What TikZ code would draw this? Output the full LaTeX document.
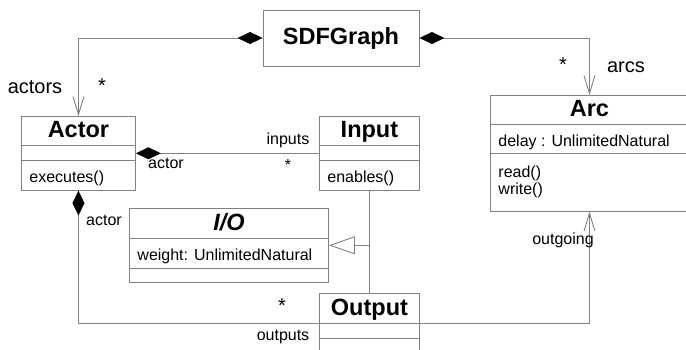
\documentclass[tikz,border=0pt]{standalone}
\usepackage{fontspec}
\setmainfont{Liberation Sans}
\usetikzlibrary{arrows.meta,shapes.multipart}

\definecolor{linegray}{RGB}{128,128,128}
\newcommand\cell[2]{\rule[-#2pt]{0pt}{\dimexpr #1pt+#2pt\relax}}
\newcommand\bodyfont{\fontsize{16}{16}\selectfont}
\newcommand\headfont{\fontsize{23.5}{26}\selectfont\bfseries}
\newcommand\rolefont{\fontsize{20}{22}\selectfont}

\begin{document}
\begin{tikzpicture}[x=1pt, y=-1pt,
  umlclass/.style={draw=linegray, line width=0.9pt, rectangle split,
                   rectangle split parts=3,
                   rectangle split part align={center,left,left},
                   inner xsep=8pt, inner ysep=0pt, anchor=north west,
                   font=\bodyfont},
  plainbox/.style={draw=linegray, line width=0.9pt, inner sep=0pt},
  role/.style={anchor=base, inner sep=0pt, font=\bodyfont},
  bigrole/.style={anchor=base, inner sep=0pt, font=\rolefont},
  link/.style={draw=linegray, line width=0.9pt},
  owns/.tip={Diamond[length=25pt, width=12pt, color=black, fill=black]},
  opens/.tip={Straight Barb[length=18pt, width=11pt]},
  inherits/.tip={Triangle[open, length=26pt, width=18pt, fill=white]}
]
\useasboundingbox (0,0) rectangle (686,349);

% ---- Classes ----
\node[plainbox, minimum width=156pt, minimum height=56pt] (sdf) at (341,38)
  {\headfont SDFGraph};

\node[umlclass, minimum width=114pt] (actor) at (21,116) {
  {\headfont\cell{21}{7}Actor}
  \nodepart{two}\cell{14}{0}
  \nodepart{three}\cell{22}{7}executes()
};
\node[umlclass, minimum width=100pt] (input) at (319,116) {
  {\headfont\cell{21}{7}Input}
  \nodepart{two}\cell{14}{0}
  \nodepart{three}\cell{22}{7}enables()
};
\node[umlclass, minimum width=198pt] (arc) at (490,95) {
  {\headfont\cell{21}{7}Arc}
  \nodepart{two}\cell{22}{6}delay : UnlimitedNatural
  \nodepart{three}\cell{24}{33}\begin{tabular}[t]{@{}l@{}}read()\\write()\end{tabular}
};
\node[umlclass, minimum width=199pt] (io) at (129,208) {
  {\headfont\itshape\cell{22}{7}I/O}
  \nodepart{two}\cell{22}{7}weight: UnlimitedNatural
  \nodepart{three}\cell{13}{0}
};
\node[umlclass, minimum width=100pt] (output) at (319,293) {
  {\headfont\cell{22}{7}Output}
  \nodepart{two}\cell{14}{0}
  \nodepart{three}\cell{24}{0}
};

% ---- Associations ----
\draw[link, owns-opens] (sdf.west) -| (actor.north);
\draw[link, owns-opens] (sdf.east) -| (arc.north);
\draw[link, owns-] (actor.east) -- (input.west);
\draw[link, owns-] (actor.south) |- (output.text split west);
\draw[link, -opens] (output.text split east) -| (arc.south);

% ---- Generalization ----
\coordinate (join) at (input.south |- io.east);
\draw[link] (input.south) -- (output.north);
\draw[link, -inherits] (join) -- (io.east);

% ---- Role names and multiplicities ----
\node[bigrole] (actorsname) at (35,93) {actors};
\node[bigrole] (actorsmult) at (102,92) {*};
\node[bigrole] (arcsmult) at (563,71) {*};
\node[bigrole] (arcsname) at (626,72) {arcs};
\node[role] (inputsname) at (288,144) {inputs};
\node[role] (inputsmult) at (288,170) {*};
\node[role] (actorname) at (166,168) {actor};
\node[role] (ownername) at (104,225) {actor};
\node[bigrole] (outputsmult) at (282,312) {*};
\node[role] (outputsname) at (283,340) {outputs};
\node[role] (outgoingname) at (563,244) {outgoing};

\end{tikzpicture}
\end{document}
